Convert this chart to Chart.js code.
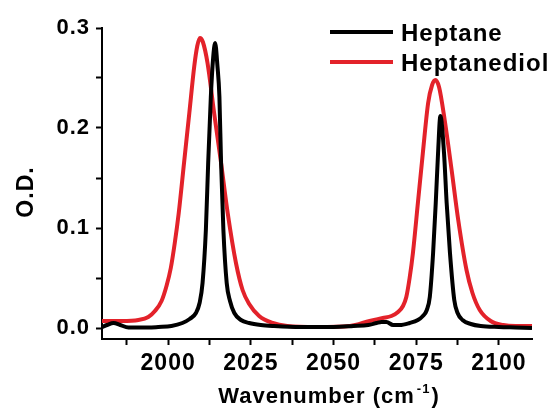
<!DOCTYPE html>
<html>
<head>
<meta charset="utf-8">
<script src="https://cdn.jsdelivr.net/npm/chart.js@4"></script>
<style>
  html, body { margin: 0; padding: 0; background: #fff; }
</style>
</head>
<body>
<canvas id="grafico" width="550" height="410"></canvas>
<script>
const heptaneX = [1980, 1981.5, 1983.5, 1985.5, 1988, 1994, 1997, 2001, 2004.3, 2006.5, 2008.4, 2009.5,
  2010.4, 2011.4, 2012.1, 2012.9, 2013.6, 2014.2, 2014.9, 2015.5, 2016, 2016.7, 2017.7, 2018.7, 2020,
  2022, 2024.5, 2028, 2032, 2040, 2050, 2056, 2060.5, 2063, 2064.5, 2066, 2068, 2070, 2073, 2075.5,
  2077, 2078.2, 2079.1, 2080.1, 2080.9, 2081.6, 2082.3, 2083.4, 2084.2, 2085.2, 2086.5, 2087.5, 2089,
  2091.5, 2094.5, 2100, 2105, 2110];
const heptaneY = [0.001, 0.003, 0.005, 0.003, 0.0005, 0.0005, 0.001, 0.002, 0.005, 0.009, 0.015, 0.025,
  0.045, 0.098, 0.165, 0.231, 0.27, 0.285, 0.262, 0.231, 0.165, 0.098, 0.045, 0.027, 0.015,
  0.008, 0.005, 0.003, 0.002, 0.001, 0.001, 0.002, 0.003, 0.005, 0.006, 0.006, 0.003, 0.003, 0.005, 0.008,
  0.012, 0.018, 0.031, 0.075, 0.125, 0.175, 0.212, 0.175, 0.125, 0.075, 0.028, 0.015, 0.008,
  0.004, 0.002, 0.001, 0.0005, 0.0];

const diolX = [1980, 1986, 1991, 1994, 1996, 1998, 1999.5, 2000.8, 2002, 2003.2, 2004.8, 2006.4, 2007.9,
  2008.8, 2009.6, 2010.5, 2011.9, 2013.9, 2016, 2018, 2020.5, 2022.5, 2024.5, 2027.5, 2031.6, 2036,
  2045, 2055, 2060.9, 2064.9, 2067.5, 2069.5, 2071, 2072, 2073, 2074, 2075.5, 2077, 2078.6, 2079.8,
  2080.8, 2081.9, 2083.6, 2085.7, 2087.7, 2090.2, 2092, 2094.2, 2097.5, 2101.3, 2105, 2110];
const diolY = [0.007, 0.007, 0.008, 0.011, 0.017, 0.027, 0.042, 0.06, 0.085, 0.115, 0.165, 0.215, 0.262,
  0.282, 0.29, 0.286, 0.265, 0.215, 0.165, 0.115, 0.065, 0.038, 0.024, 0.012, 0.005, 0.002,
  0.001, 0.002, 0.007, 0.010, 0.012, 0.016, 0.022, 0.031, 0.05, 0.075, 0.125, 0.175, 0.225, 0.243,
  0.248, 0.241, 0.208, 0.158, 0.108, 0.058, 0.035, 0.018, 0.007, 0.003, 0.002, 0.002];

const seriesNames = ["Heptane", "Heptanediol"];

const xTicks = [1987.5, 2000, 2012.5, 2025, 2037.5, 2050, 2062.5, 2075, 2087.5, 2100];
const xLabels = [2000, 2025, 2050, 2075, 2100];
const yTicks = [0, 0.05, 0.1, 0.15, 0.2, 0.25, 0.3];
const yLabels = [0, 0.1, 0.2, 0.3];

const FONTE = "'Liberation Sans', Arial, sans-serif";

function pontos(xs, ys) {
  return xs.map((x, i) => ({ x: x, y: ys[i] }));
}

// espaçamento das letras (texto do original é mais largo)
const espacamento = {
  id: 'espacamento',
  beforeUpdate(chart) { chart.ctx.letterSpacing = '1px'; },
  beforeDraw(chart) { chart.ctx.letterSpacing = '1px'; }
};

// legenda e títulos dos eixos
const extras = {
  id: 'extras',
  afterDraw(chart) {
    const ctx = chart.ctx;
    ctx.save();
    ctx.letterSpacing = '1px';
    ctx.fillStyle = '#000';

    // legenda
    chart.data.datasets.forEach((ds, i) => {
      const y = 32 + i * 30;
      ctx.strokeStyle = ds.borderColor;
      ctx.lineWidth = 4;
      ctx.beginPath();
      ctx.moveTo(330, y);
      ctx.lineTo(393, y);
      ctx.stroke();
      ctx.font = "bold 24px " + FONTE;
      ctx.textAlign = 'left';
      ctx.textBaseline = 'alphabetic';
      ctx.fillText(ds.label, 401, y + 9);
    });

    // título eixo x com expoente
    const grande = "bold 22px " + FONTE;
    const pequeno = "bold 13px " + FONTE;
    ctx.font = grande;
    const w1 = ctx.measureText('Wavenumber (cm').width;
    const w3 = ctx.measureText(')').width;
    ctx.font = pequeno;
    const w2 = ctx.measureText('-1').width;
    let x = 329 - (w1 + w2 + w3 + 3) / 2;
    const base = 403;
    ctx.textAlign = 'left';
    ctx.textBaseline = 'alphabetic';
    ctx.font = grande;
    ctx.fillText('Wavenumber (cm', x, base);
    x += w1 + 2;
    ctx.font = pequeno;
    ctx.fillText('-1', x, base - 10);
    x += w2 + 1;
    ctx.font = grande;
    ctx.fillText(')', x, base);

    // título eixo y
    ctx.translate(27, 192);
    ctx.rotate(-Math.PI / 2);
    ctx.textAlign = 'center';
    ctx.textBaseline = 'middle';
    ctx.font = "bold 23px " + FONTE;
    ctx.fillText('O.D.', 0, 0);
    ctx.restore();
  }
};

const ctx = document.getElementById('grafico').getContext('2d');
const chart = new Chart(ctx, {
  type: 'line',
  data: {
    datasets: [{
      label: seriesNames[0],
      data: pontos(heptaneX, heptaneY),
      borderColor: '#000000',
      borderWidth: 4,
      pointRadius: 0,
      cubicInterpolationMode: 'monotone',
      fill: false
    }, {
      label: seriesNames[1],
      data: pontos(diolX, diolY),
      borderColor: '#e3222a',
      borderWidth: 4,
      pointRadius: 0,
      cubicInterpolationMode: 'monotone',
      fill: false
    }]
  },
  options: {
    responsive: false,
    animation: false,
    events: [],
    layout: { padding: { top: 28, right: 18, left: 0, bottom: 0 } },
    plugins: {
      legend: { display: false },
      tooltip: { enabled: false }
    },
    scales: {
      x: {
        type: 'linear',
        min: 1980,
        max: 2110,
        afterBuildTicks: s => { s.ticks = xTicks.map(v => ({ value: v })); },
        afterFit: s => { s.height = 71; },
        ticks: {
          color: '#000',
          font: { family: FONTE, size: 23, weight: 'bold' },
          padding: 5,
          maxRotation: 0,
          autoSkip: false,
          callback: v => xLabels.includes(v) ? String(v) : ''
        },
        grid: { drawOnChartArea: false, drawTicks: true, tickLength: 6, tickWidth: 2, tickColor: '#000' },
        border: { display: true, color: '#000', width: 2 }
      },
      y: {
        type: 'linear',
        min: -0.011,
        max: 0.3,
        afterBuildTicks: s => { s.ticks = yTicks.map(v => ({ value: v })); },
        afterFit: s => { s.width = 102; },
        ticks: {
          color: '#000',
          font: { family: FONTE, size: 22, weight: 'bold' },
          padding: 6,
          autoSkip: false,
          callback: v => yLabels.some(l => Math.abs(l - v) < 1e-9) ? v.toFixed(1) : ''
        },
        grid: { drawOnChartArea: false, drawTicks: true, tickLength: 6, tickWidth: 2, tickColor: '#000' },
        border: { display: true, color: '#000', width: 2 }
      }
    }
  },
  plugins: [espacamento, extras]
});
</script>
</body>
</html>
